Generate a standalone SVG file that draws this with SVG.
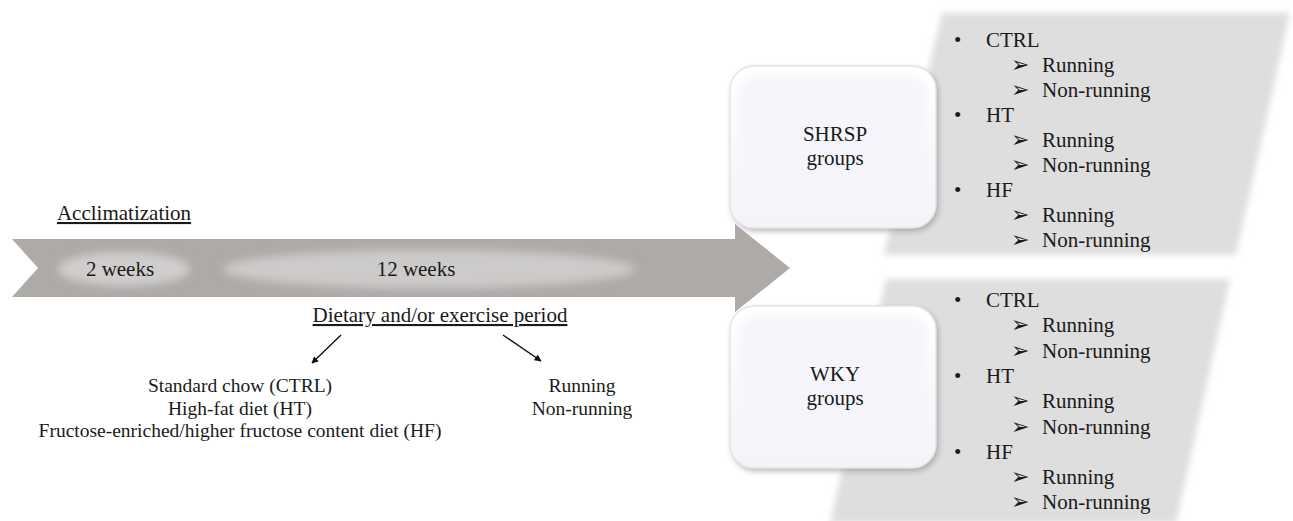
<svg xmlns="http://www.w3.org/2000/svg" width="1293" height="521" viewBox="0 0 1293 521">
<defs>
<style>
text{font-family:"Liberation Serif","Times New Roman",serif;font-size:21px;fill:#1a1a1a}
.c{text-anchor:middle}
.u{text-decoration:underline}
.s{font-size:19.5px}
.sym{font-family:"DejaVu Sans",sans-serif;font-size:22px}
.conn{stroke:#111;stroke-width:1.4;fill:none;marker-end:url(#ah)}
</style>
<filter id="soft" x="-10%" y="-10%" width="120%" height="120%"><feGaussianBlur stdDeviation="3"/></filter>
<filter id="blur4" x="-20%" y="-50%" width="140%" height="200%"><feGaussianBlur stdDeviation="4"/></filter>
<filter id="shadow" x="-10%" y="-10%" width="130%" height="130%"><feGaussianBlur stdDeviation="3"/></filter>
<linearGradient id="boxg" x1="0" y1="0" x2="0" y2="1">
<stop offset="0" stop-color="#ffffff"/><stop offset="1" stop-color="#f3f3f9"/>
</linearGradient>
<marker id="ah" viewBox="0 0 10 10" refX="9" refY="5" markerWidth="7" markerHeight="7" orient="auto" markerUnits="userSpaceOnUse">
<path d="M0,0 L10,5 L0,10 z" fill="#111"/>
</marker>
</defs>
<rect width="1293" height="521" fill="#ffffff"/>

<g id="timeline">
<polygon points="12,239 735,239 735,224 790,268 735,312 735,297 12,297 38,268" fill="#aeaaa8"/>
<ellipse cx="124" cy="269" rx="66" ry="17" fill="#d0cecd" filter="url(#blur4)"/>
<ellipse cx="429" cy="269" rx="206" ry="19" fill="#cdcbca" filter="url(#blur4)"/>
<text class="c" x="120" y="276">2 weeks</text>
<text class="c" x="416" y="276">12 weeks</text>
<text class="c u" x="124" y="220">Acclimatization</text>
<text class="c u" x="440" y="322">Dietary and/or exercise period</text>
</g>

<g id="connectors">
<line class="conn" x1="341" y1="335" x2="312" y2="363"/>
<line class="conn" x1="503" y1="335" x2="541" y2="361"/>
</g>

<g id="diet">
<text class="c s" x="240" y="392">Standard chow (CTRL)</text>
<text class="c s" x="240" y="414.5">High-fat diet (HT)</text>
<text class="c s" x="240" y="437">Fructose-enriched/higher fructose content diet (HF)</text>
</g>

<g id="exercise">
<text class="c s" x="582" y="392">Running</text>
<text class="c s" x="582" y="414.5">Non-running</text>
</g>

<g id="shrsp-list">
<polygon points="942,13 1290,13 1236,255 884,255" fill="#dfdede" filter="url(#soft)"/>
<g>
<text x="954" y="47">•</text><text x="986" y="47">CTRL</text>
<text class="sym" x="1011" y="72">➢</text><text x="1042" y="72">Running</text>
<text class="sym" x="1011" y="97">➢</text><text x="1042" y="97">Non-running</text>
<text x="954" y="122">•</text><text x="986" y="122">HT</text>
<text class="sym" x="1011" y="147">➢</text><text x="1042" y="147">Running</text>
<text class="sym" x="1011" y="172">➢</text><text x="1042" y="172">Non-running</text>
<text x="954" y="197">•</text><text x="986" y="197">HF</text>
<text class="sym" x="1011" y="222">➢</text><text x="1042" y="222">Running</text>
<text class="sym" x="1011" y="247">➢</text><text x="1042" y="247">Non-running</text>
</g>
</g>

<g id="wky-list">
<polygon points="886,279 1230,279 1176,523 830,523" fill="#dfdede" filter="url(#soft)"/>
<g>
<text x="954" y="307">•</text><text x="986" y="307">CTRL</text>
<text class="sym" x="1011" y="332.3">➢</text><text x="1042" y="332.3">Running</text>
<text class="sym" x="1011" y="357.6">➢</text><text x="1042" y="357.6">Non-running</text>
<text x="954" y="382.9">•</text><text x="986" y="382.9">HT</text>
<text class="sym" x="1011" y="408.2">➢</text><text x="1042" y="408.2">Running</text>
<text class="sym" x="1011" y="433.5">➢</text><text x="1042" y="433.5">Non-running</text>
<text x="954" y="458.8">•</text><text x="986" y="458.8">HF</text>
<text class="sym" x="1011" y="484.1">➢</text><text x="1042" y="484.1">Running</text>
<text class="sym" x="1011" y="509.4">➢</text><text x="1042" y="509.4">Non-running</text>
</g>
</g>

<g id="shrsp">
<rect x="732" y="69" width="206" height="162" rx="24" fill="#777" opacity="0.55" filter="url(#shadow)"/>
<rect x="730" y="66" width="206" height="162" rx="24" fill="url(#boxg)" stroke="#e4e4ea" stroke-width="1.5"/>
<rect x="740" y="77" width="186" height="140" rx="16" fill="#f5f5fb" filter="url(#soft)"/>
<text class="c" x="835" y="141">SHRSP</text>
<text class="c" x="835" y="165">groups</text>
</g>

<g id="wky">
<rect x="732" y="309" width="206" height="162" rx="24" fill="#777" opacity="0.55" filter="url(#shadow)"/>
<rect x="730" y="306" width="206" height="162" rx="24" fill="url(#boxg)" stroke="#e4e4ea" stroke-width="1.5"/>
<rect x="740" y="317" width="186" height="140" rx="16" fill="#f5f5fb" filter="url(#soft)"/>
<text class="c" x="835" y="381">WKY</text>
<text class="c" x="835" y="405">groups</text>
</g>
</svg>
